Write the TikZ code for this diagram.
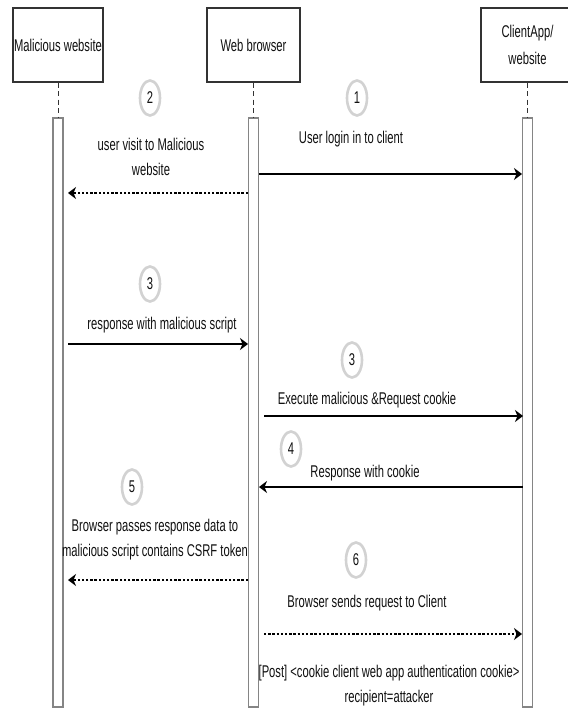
\documentclass[tikz,border=0pt]{standalone}
\usepackage{fontspec}
\setmainfont{Liberation Sans}[FakeStretch=0.66]
\usetikzlibrary{arrows.meta,shapes.geometric}

\definecolor{boxline}{HTML}{333333}
\definecolor{barline}{HTML}{858585}
\definecolor{ringline}{HTML}{D2D2D2}
\definecolor{ink}{HTML}{111111}

\begin{document}
\begin{tikzpicture}[x=1pt,y=-1pt,
  txt/.style={font=\fontsize{17}{25}\selectfont, text=ink},
  actor/.style={txt, draw=boxline, line width=1.3pt, fill=white,
    minimum height=74pt, inner sep=0pt, align=center},
  bar/.style={draw=barline, line width=1.4pt, fill=white,
    minimum width=10pt, minimum height=589pt, inner sep=0pt},
  lifeline/.style={draw=boxline, line width=1pt, dash pattern=on 5pt off 3.5pt},
  stepmark/.style={txt, ellipse, draw=ringline, line width=2.6pt,
    minimum width=20pt, minimum height=35pt, inner sep=0pt},
  label/.style={txt, anchor=base, align=center, inner sep=0pt},
  msg/.style={draw=black, line width=1.6pt,
    -{Stealth[length=8pt,width=12pt,inset=2.5pt]}},
  reply/.style={msg, line width=1.3pt, dash pattern=on 2.4pt off 1.8pt}
]
% canvas
\path[fill=white, use as bounding box] (0,0) rectangle (567,708);

% participants
\node[actor, minimum width=90pt] (mal) at (58,45) {Malicious website};
\node[actor, minimum width=93pt] (web) at (253.5,45) {Web browser};
\node[actor, minimum width=93pt] (app) at (527.5,45) {ClientApp/\\[2pt]website};

% activation bars
\node[bar] (barM) at (58,412.5) {};
\node[bar] (barW) at (253.5,412.5) {};
\node[bar] (barA) at (527.5,412.5) {};

% lifelines
\draw[lifeline] (mal.south) -- (barM.north);
\draw[lifeline] (web.south) -- (barW.north);
\draw[lifeline] (app.south) -- (barA.north);

% message end points
\coordinate (m1s) at (259,174);  \coordinate (m1e) at (522,174);
\coordinate (m2s) at (248,193);  \coordinate (m2e) at (68,193);
\coordinate (m3s) at (68,344);   \coordinate (m3e) at (248,344);
\coordinate (m4s) at (264,416);  \coordinate (m4e) at (523,416);
\coordinate (m5s) at (522.5,487);\coordinate (m5e) at (259,487);
\coordinate (m6s) at (248,580);  \coordinate (m6e) at (68,580);
\coordinate (m7s) at (264,634);  \coordinate (m7e) at (522,634);

% messages
\draw[msg]   (m1s) -- (m1e);
\draw[reply] (m2s) -- (m2e);
\draw[msg]   (m3s) -- (m3e);
\draw[msg]   (m4s) -- (m4e);
\draw[msg]   (m5s) -- (m5e);
\draw[reply] (m6s) -- (m6e);
\draw[reply] (m7s) -- (m7e);

% step numbers
\node[stepmark] (s1)  at (357,98)  {1};
\node[stepmark] (s2)  at (150,98)  {2};
\node[stepmark] (s3a) at (150,284) {3};
\node[stepmark] (s3b) at (352,360) {3};
\node[stepmark] (s4)  at (291,449) {4};
\node[stepmark] (s5)  at (132,487) {5};
\node[stepmark] (s6)  at (356,560) {6};

% message labels (base anchor sits on the last line)
\node[label] (l1) at (351,144) {User login in to client};
\node[label] (l2) at (151,176) {user visit to Malicious\\website};
\node[label] (l3) at (162,329) {response with malicious script};
\node[label] (l4) at (367,404) {Execute malicious \&Request cookie};
\node[label] (l5) at (365,477) {Response with cookie};
\node[label] (l6) at (155,556) {Browser passes response data to\\malicious script contains CSRF token};
\node[label] (l7) at (367,607) {Browser sends request to Client};
\node[label] (l8) at (389,702) {[Post] <cookie client web app authentication cookie>\\recipient=attacker};
\end{tikzpicture}
\end{document}
